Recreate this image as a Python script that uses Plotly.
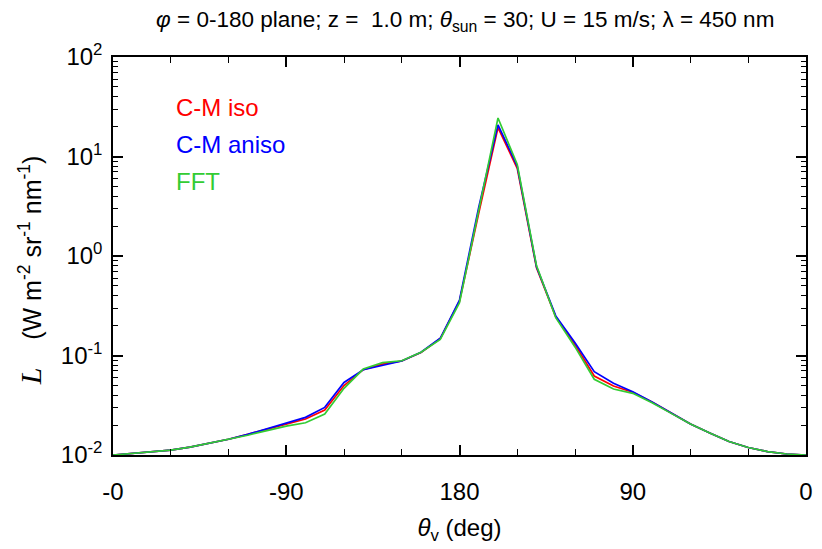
import plotly.graph_objects as go

# viewing-angle coordinate (0..360 across the 0-180 plane), every 10 deg
u_deg = list(range(0, 361, 10))

cm_iso = [0.0100, 0.01035, 0.0107, 0.0112, 0.0120, 0.0131, 0.0144, 0.0161, 0.0181,
          0.0203, 0.0230, 0.0283, 0.0499, 0.0720, 0.0820, 0.0881, 0.1070, 0.148,
          0.352, 2.7, 19.5, 7.6, 0.76, 0.245, 0.128, 0.0622, 0.0494, 0.0428,
          0.0340, 0.0264, 0.0205, 0.01665, 0.01368, 0.0119, 0.01083, 0.01023, 0.0100]
cm_aniso = [0.0100, 0.01035, 0.0107, 0.0112, 0.0120, 0.0131, 0.0144, 0.0161, 0.0183,
            0.0207, 0.0239, 0.0301, 0.0536, 0.0720, 0.0803, 0.0881, 0.1077, 0.149,
            0.361, 3.1, 20.8, 8.0, 0.78, 0.250, 0.134, 0.0687, 0.0526, 0.0433,
            0.0341, 0.0264, 0.0205, 0.01665, 0.01368, 0.0119, 0.01083, 0.01023, 0.0100]
fft = [0.0100, 0.01035, 0.0107, 0.0112, 0.0120, 0.0131, 0.0144, 0.0158, 0.0176,
       0.0195, 0.0211, 0.0258, 0.0468, 0.0731, 0.0847, 0.0885, 0.1077, 0.145,
       0.340, 2.9, 24.4, 8.3, 0.80, 0.240, 0.122, 0.0577, 0.0460, 0.0417,
       0.0335, 0.0262, 0.0205, 0.01665, 0.01368, 0.0119, 0.01083, 0.01023, 0.0100]

series_names = ["C-M iso", "C-M aniso", "FFT"]
series_colors = ["#ff0000", "#0000ff", "#33cc33"]

x_tickvals = [0, 90, 180, 270, 360]
x_ticktext = ["-0", "-90", "180", "90", "0"]
y_tickvals = [0.01, 0.1, 1, 10, 100]
y_ticktext = ["10<sup>-2</sup>", "10<sup>-1</sup>", "10<sup>0</sup>", "10<sup>1</sup>", "10<sup>2</sup>"]

FONT = "Liberation Sans, Arial, Helvetica, sans-serif"

fig = go.Figure()
for name, vals, col in [(series_names[0], cm_iso, series_colors[0]),
                        (series_names[1], cm_aniso, series_colors[1]),
                        (series_names[2], fft, series_colors[2])]:
    fig.add_trace(go.Scatter(x=u_deg, y=vals, mode="lines", name=name,
                             line=dict(color=col, width=1.7), showlegend=False))

# text legend
leg_y = [0.874, 0.779, 0.688]
for name, col, yy in zip(series_names, series_colors, leg_y):
    fig.add_annotation(xref="paper", yref="paper", x=0.088, y=yy, text=name,
                       showarrow=False, xanchor="left", yanchor="middle",
                       font=dict(family=FONT, size=24, color=col))

# y-axis title (as rotated annotation to match placement)
fig.add_annotation(
    xref="paper", yref="paper", x=-0.119, y=0.463, textangle=-90,
    xanchor="center", yanchor="middle", showarrow=False,
    text="<span style=\"font-family:'Liberation Serif';font-size:30px\"><i>L</i></span>    (W m<sup>-2</sup> sr<sup>-1</sup> nm<sup>-1</sup>)",
    font=dict(family=FONT, size=25, color="black"),
)

fig.update_layout(
    width=822, height=549,
    margin=dict(l=113, r=9, t=57, b=94),
    paper_bgcolor="white", plot_bgcolor="white",
    font=dict(family=FONT, color="black"),
    title=dict(text="<i>φ</i> = 0-180 plane; z =  1.0 m; <i>θ</i><sub>sun</sub> = 30; U = 15 m/s; λ = 450 nm",
               x=0.566, xanchor="center", y=0.965, yanchor="middle",
               font=dict(family=FONT, size=22.5, color="black")),
)

fig.update_xaxes(
    range=[0, 360], tickvals=x_tickvals, ticktext=x_ticktext,
    ticks="inside", ticklen=10, tickwidth=1.5, tickcolor="black",
    showline=True, linecolor="black", linewidth=1.5, mirror="ticks",
    showgrid=False, zeroline=False,
    tickfont=dict(family=FONT, size=24), ticklabelstandoff=14,
    minor=dict(ticks="inside", ticklen=6, tickwidth=1.2, tickcolor="black", dtick=30, showgrid=False),
    title=dict(text="<i>θ</i><sub>v</sub> (deg)", font=dict(family=FONT, size=24), standoff=16),
)
fig.update_yaxes(
    type="log", range=[-2, 2], tickvals=y_tickvals, ticktext=y_ticktext,
    ticks="inside", ticklen=10, tickwidth=1.5, tickcolor="black",
    showline=True, linecolor="black", linewidth=1.5, mirror="ticks",
    showgrid=False, zeroline=False,
    tickfont=dict(family=FONT, size=24), ticklabelstandoff=4,
    minor=dict(ticks="inside", ticklen=5, tickwidth=1.2, tickcolor="black", dtick="D1", showgrid=False),
)

fig.write_html("out.html")
